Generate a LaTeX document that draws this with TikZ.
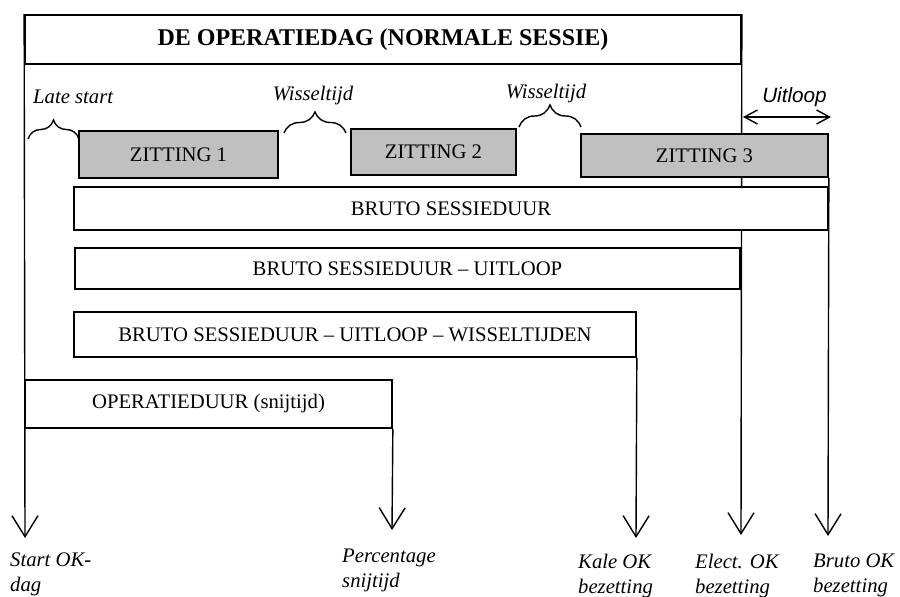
\documentclass[tikz,border=0pt]{standalone}
\usepackage{fontspec}
\setmainfont{Liberation Serif}
\newfontfamily\arialfont{Liberation Sans}
\usetikzlibrary{arrows.meta,decorations.pathreplacing}
\definecolor{zgray}{HTML}{C0C0C0}
\begin{document}
\begin{tikzpicture}[x=1pt,y=-1pt,
  every node/.style={inner sep=0pt},
  txt/.style={font=\fontsize{20.7}{25}\selectfont},
  itl/.style={font=\fontsize{20.7}{25}\selectfont\itshape},
  box/.style={draw, line width=1.7pt, fill=white, txt},
  zit/.style={box, fill=zgray},
  lbl/.style={itl, align=left, anchor=north west},
  vline/.style={line width=1.4pt, -{Straight Barb[length=21pt,width=26pt]}},
  bracestyle/.style={line width=1.4pt, decorate, decoration={brace, amplitude=#1}},
  dimarrow/.style={line width=1.4pt, {Straight Barb[length=13pt,width=14pt]}-{Straight Barb[length=13pt,width=14pt]}}
]
\useasboundingbox (0,0) rectangle (900,597);

% coordinates of arrow tips
\coordinate (tS) at (25,538);
\coordinate (tP) at (392,530);
\coordinate (tK) at (636,538);
\coordinate (tE) at (741,535);
\coordinate (tB) at (828,536);

% title box
\node[box, minimum width=716pt, minimum height=49pt,
      font=\fontsize{24}{28}\selectfont\bfseries] (title) at (383,39.5) {DE OPERATIEDAG (NORMALE SESSIE)};

% long vertical lines (behind boxes)
\draw[vline] (title.north west) -- (tS);
\draw[vline] (title.north east) -- (tE);

% sessions
\node[zit, minimum width=199pt, minimum height=47pt] (z1) at (178.5,154.5) {ZITTING 1};
\node[zit, minimum width=165pt, minimum height=46pt] (z2) at (433.5,152) {ZITTING 2};
\node[zit, minimum width=247pt, minimum height=43pt] (z3) at (704.5,155.5) {ZITTING 3};

\draw[vline] (z3.south east) -- (tB);

% bars
\node[box, minimum width=754pt, minimum height=43pt] (bruto) at (451,208.5) {BRUTO SESSIEDUUR};
\node[box, minimum width=665pt, minimum height=41pt] (bu) at (407.5,268.5) {BRUTO SESSIEDUUR -- UITLOOP};
\node[box, minimum width=562pt, minimum height=45pt] (buw) at (355,334.5) {BRUTO SESSIEDUUR -- UITLOOP -- WISSELTIJDEN};
\node[box, minimum width=367pt, minimum height=48pt] (op) at (208.5,404) {OPERATIEDUUR (snijtijd)};

\draw[vline] (buw.south east) -- (tK);
\draw[vline] (op.south east) -- (tP);

% top labels and braces
\node[itl, anchor=base west] (late) at (33,103) {Late start};
\node[itl, anchor=base] (w1) at (313,100) {Wisseltijd};
\node[itl, anchor=base] (w2) at (546,98) {Wisseltijd};
\node[font=\fontsize{20.7}{25}\selectfont\arialfont\itshape, anchor=base] (uit) at (794.5,102) {Uitloop};

\draw[bracestyle=19pt] (28,139) -- (79,139);
\draw[bracestyle=21pt] (284,133) -- (346,133);
\draw[bracestyle=22pt] (519,127) -- (581,127);

\coordinate (ua) at (743,117);
\coordinate (ub) at (831,117);
\draw[dimarrow] (ua) -- (ub);

% bottom labels
\node[lbl] (lS) at (10,553) {Start OK-\\dag};
\node[lbl] (lP) at (342,549) {Percentage\\snijtijd};
\node[lbl] (lK) at (578,554) {Kale OK\\bezetting};
\node[lbl] (lE) at (695,554) {Elect. OK\\bezetting};
\node[lbl] (lB) at (813,554) {Bruto OK\\bezetting};
\end{tikzpicture}
\end{document}
